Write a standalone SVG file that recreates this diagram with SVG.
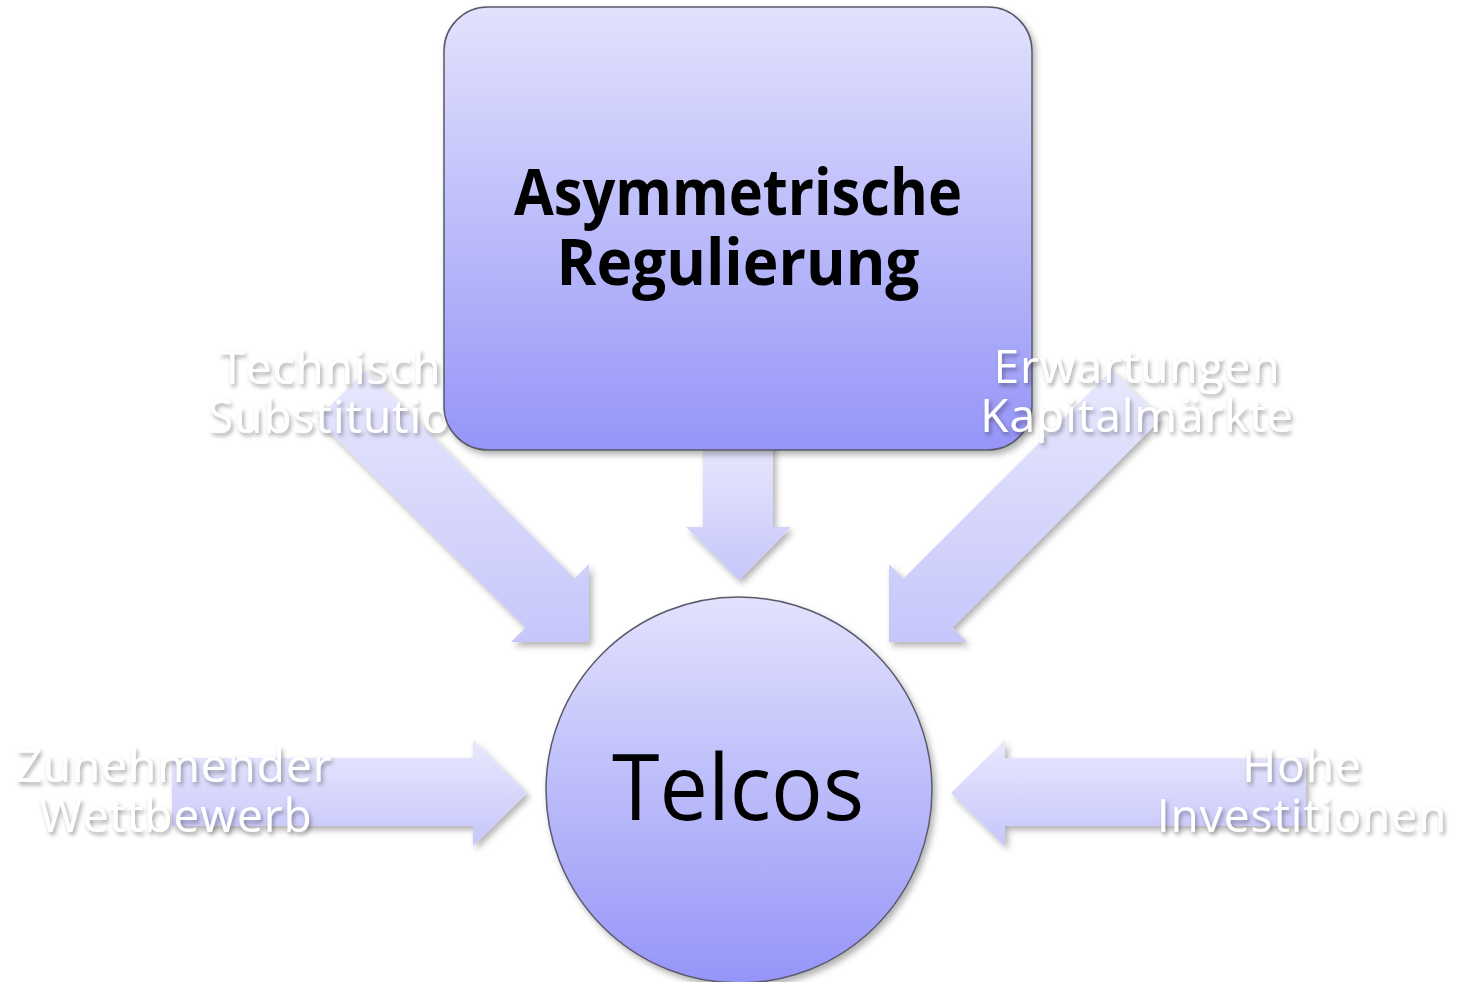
<svg xmlns="http://www.w3.org/2000/svg" width="1463" height="982" viewBox="0 0 1463 982">
<defs>
<linearGradient id="gNode" x1="0" y1="0" x2="0" y2="1">
<stop offset="0" stop-color="#e2e2fd"/>
<stop offset="1" stop-color="#9595f8"/>
</linearGradient>
<linearGradient id="gArrow" x1="0" y1="0" x2="0" y2="1">
<stop offset="0" stop-color="#e8e8fd"/>
<stop offset="1" stop-color="#c6c6fb"/>
</linearGradient>
<filter id="shadow" x="-10%" y="-10%" width="130%" height="130%">
<feDropShadow dx="3" dy="4" stdDeviation="3" flood-color="#000" flood-opacity="0.3"/>
</filter>
<filter id="tshadow" x="-10%" y="-20%" width="130%" height="160%">
<feDropShadow dx="2" dy="3" stdDeviation="2" flood-color="#000" flood-opacity="0.35"/>
</filter>
</defs>
<style>
.arrow{fill:url(#gArrow);filter:url(#shadow);}
.node{fill:url(#gNode);stroke:#5a5a6a;stroke-width:1.5;filter:url(#shadow);}
.lbl{font-family:"Open Sans","Noto Sans","DejaVu Sans",sans-serif;font-size:46px;fill:#ffffff;text-anchor:middle;letter-spacing:1px;filter:url(#tshadow);}
.main{font-family:"Open Sans","Noto Sans","DejaVu Sans",sans-serif;fill:#000;text-anchor:middle;}
</style>
<rect width="1463" height="982" fill="#ffffff"/>

<g id="connectors">
<polygon id="arrow-tech" class="arrow" points="366,370 574.5,578.5 589,564 589,642 511,642 525.5,627.5 317,419"/>
<polygon id="arrow-reg" class="arrow" points="703,440 773,440 773,527 791,527 739,580 686,527 703,527"/>
</g>
<g id="label-tech">
<text class="lbl" x="344" y="384">Technische</text>
<text class="lbl" x="344" y="433">Substitution</text>
</g>

<g id="node-regulierung">
<rect class="node" x="444" y="7" width="588" height="443" rx="44" ry="44"/>
<text class="main" x="738" y="215" font-size="64" font-weight="700" textLength="448" lengthAdjust="spacingAndGlyphs">Asymmetrische</text>
<text class="main" x="738" y="285" font-size="64" font-weight="700" textLength="363" lengthAdjust="spacingAndGlyphs">Regulierung</text>
</g>

<g id="connectors2">
<polygon id="arrow-kap" class="arrow" points="1112,370 903.5,578.5 889,564 889,642 967,642 952.5,627.5 1161,419"/>
<polygon id="arrow-wett" class="arrow" points="172,758 473,758 473,740 527,793 473,846 473,826 172,826"/>
<polygon id="arrow-inv" class="arrow" points="1306,758 1005,758 1005,740 951,793 1005,846 1005,826 1306,826"/>
</g>

<g id="label-kap">
<text class="lbl" x="1137" y="383">Erwartungen</text>
<text class="lbl" x="1137" y="432">Kapitalmärkte</text>
</g>
<g id="label-wett">
<text class="lbl" x="174" y="782">Zunehmender</text>
<text class="lbl" x="176" y="832">Wettbewerb</text>
</g>
<g id="label-inv">
<text class="lbl" x="1302" y="782">Hohe</text>
<text class="lbl" x="1302" y="832">Investitionen</text>
</g>

<g id="node-telcos">
<circle class="node" cx="739" cy="790" r="193"/>
<text class="main" x="738" y="820" font-size="92" textLength="252" lengthAdjust="spacingAndGlyphs">Telcos</text>
</g>
</svg>
